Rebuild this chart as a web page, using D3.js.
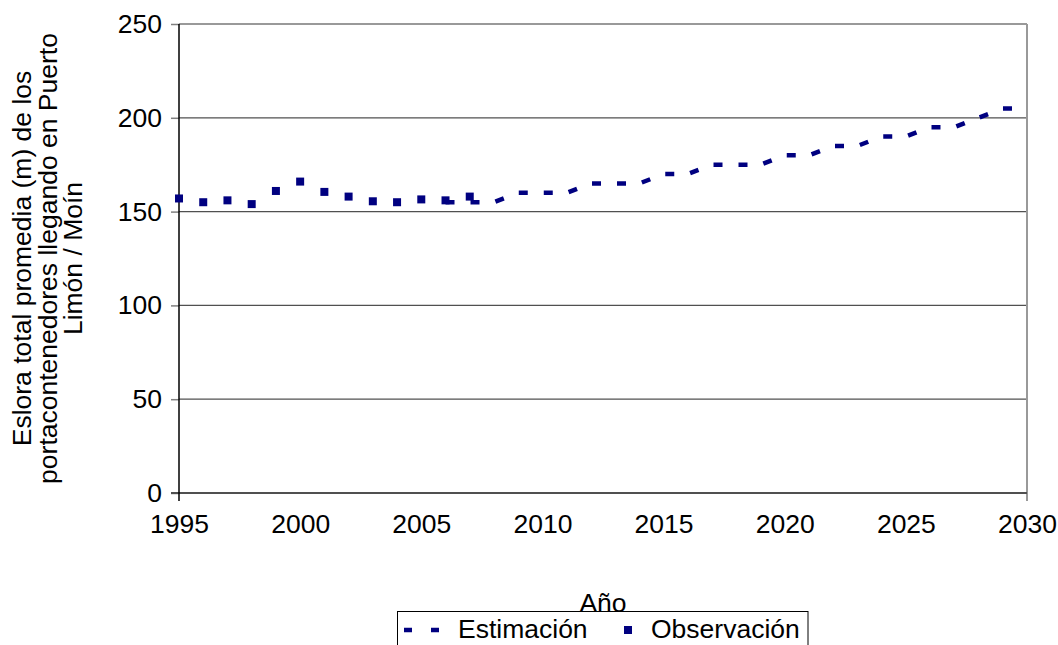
<!DOCTYPE html>
<html>
<head>
<meta charset="utf-8">
<script src="https://cdn.jsdelivr.net/npm/d3@7"></script>
<style>
  html, body { margin: 0; padding: 0; background: #fff; }
  svg { display: block; font-family: "Liberation Sans", Arial, sans-serif; }
</style>
</head>
<body>
<svg id="chart" width="1058" height="645"></svg>
<script>
// ---- Data ----
const obsYears = [1995, 1996, 1997, 1998, 1999, 2000, 2001, 2002, 2003, 2004, 2005, 2006, 2007];
const obsValues = [157, 155, 156, 154, 161, 166, 160.5, 158, 155.5, 155, 156.5, 156, 158];
const estYears = [2006, 2007, 2008, 2009, 2010, 2011, 2012, 2013, 2014, 2015, 2016, 2017, 2018,
                  2019, 2020, 2021, 2022, 2023, 2024, 2025, 2026, 2027, 2028, 2029, 2030];
const estValues = [155, 155, 155, 160, 160, 160, 165, 165, 165, 170, 170, 175, 175,
                   175, 180, 180, 185, 185, 190, 190, 195, 195, 200, 205, 205];
const xTicks = [1995, 2000, 2005, 2010, 2015, 2020, 2025, 2030];
const yTicks = [0, 50, 100, 150, 200, 250];
const yTitleLines = ["Eslora total promedia (m) de los", "portacontenedores llegando en Puerto", "Limón / Moín"];
const xTitle = "Año";
const seriesNames = ["Estimación", "Observación"];

(function () {
// ---- Layout ----
const svg = d3.select("#chart");
const pL = 179, pR = 1027, pT = 24, pB = 493;
const navy = "#000080";
const fs = 26.5;

const x = d3.scaleLinear().domain([1995, 2030]).range([pL, pR]);
const y = d3.scaleLinear().domain([0, 250]).range([pB, pT]);

// gridlines
svg.append("g").selectAll("line").data(yTicks.filter(d => d > 0 && d < 250)).join("line")
  .attr("x1", pL).attr("x2", pR)
  .attr("y1", d => y(d)).attr("y2", d => y(d))
  .attr("stroke", "#505050").attr("stroke-width", 1.2);

// plot border top / right
svg.append("line").attr("x1", pL).attr("x2", pR).attr("y1", pT).attr("y2", pT)
  .attr("stroke", "#999").attr("stroke-width", 2);
svg.append("line").attr("x1", pR).attr("x2", pR).attr("y1", pT).attr("y2", pB + 8)
  .attr("stroke", "#999").attr("stroke-width", 2);

// y axis
const yAxis = svg.append("g").attr("transform", `translate(${pL},0)`)
  .call(d3.axisLeft(y).tickValues(yTicks).tickFormat(d3.format("d")).tickSize(8).tickPadding(9));
yAxis.select(".domain").remove();
yAxis.selectAll(".tick line").attr("stroke", "#808080").attr("stroke-width", 1.5);
yAxis.selectAll(".tick text").attr("font-size", fs).attr("fill", "#000")
  .attr("font-family", "Liberation Sans, Arial, sans-serif");

// x axis
const xAxis = svg.append("g").attr("transform", `translate(0,${pB})`)
  .call(d3.axisBottom(x).tickValues(xTicks).tickFormat(d3.format("d")).tickSize(0).tickPadding(21));
xAxis.select(".domain").remove();
xAxis.selectAll(".tick line").remove();
xAxis.selectAll(".tick text").attr("font-size", fs).attr("fill", "#000")
  .attr("font-family", "Liberation Sans, Arial, sans-serif");

// x axis baseline
svg.append("line").attr("x1", pL - 8).attr("x2", pR).attr("y1", pB).attr("y2", pB)
  .attr("stroke", "#505050").attr("stroke-width", 2);
// y axis line (black) down to tick
svg.append("line").attr("x1", pL).attr("x2", pL).attr("y1", pT).attr("y2", pB + 8)
  .attr("stroke", "#000").attr("stroke-width", 1.5);

// axis titles
svg.append("text").attr("x", (pL + pR) / 2).attr("y", 612)
  .attr("text-anchor", "middle").attr("font-size", fs).text(xTitle);

const yt = svg.append("text").attr("transform", `translate(0,${(pT + pB) / 2}) rotate(-90)`)
  .attr("text-anchor", "middle").attr("font-size", fs);
yTitleLines.forEach((t, i) => {
  yt.append("tspan").attr("x", 0).attr("y", 31 + i * 25.5).text(t);
});

// estimation line
const line = d3.line().x(d => x(d[0])).y(d => y(d[1]));
svg.append("path").datum(d3.zip(estYears, estValues))
  .attr("d", line).attr("fill", "none").attr("stroke", navy)
  .attr("stroke-width", 4.5).attr("stroke-dasharray", "9 16");

// observation markers
svg.append("g").selectAll("rect").data(d3.zip(obsYears, obsValues)).join("rect")
  .attr("x", d => x(d[0]) - 4).attr("y", d => y(d[1]) - 4)
  .attr("width", 8).attr("height", 8).attr("fill", navy);

// legend
const lg = svg.append("g");
lg.append("rect").attr("x", 397.5).attr("y", 611.5).attr("width", 410.5).attr("height", 60)
  .attr("fill", "#fff").attr("stroke", "#000").attr("stroke-width", 1);
lg.append("line").attr("x1", 404).attr("x2", 442).attr("y1", 630).attr("y2", 630)
  .attr("stroke", navy).attr("stroke-width", 4.5).attr("stroke-dasharray", "8 19");
lg.append("text").attr("x", 458).attr("y", 638).attr("font-size", fs).text(seriesNames[0]);
lg.append("rect").attr("x", 624).attr("y", 626).attr("width", 8).attr("height", 8).attr("fill", navy);
lg.append("text").attr("x", 651).attr("y", 638).attr("font-size", fs).text(seriesNames[1]);
})();
</script>
</body>
</html>
